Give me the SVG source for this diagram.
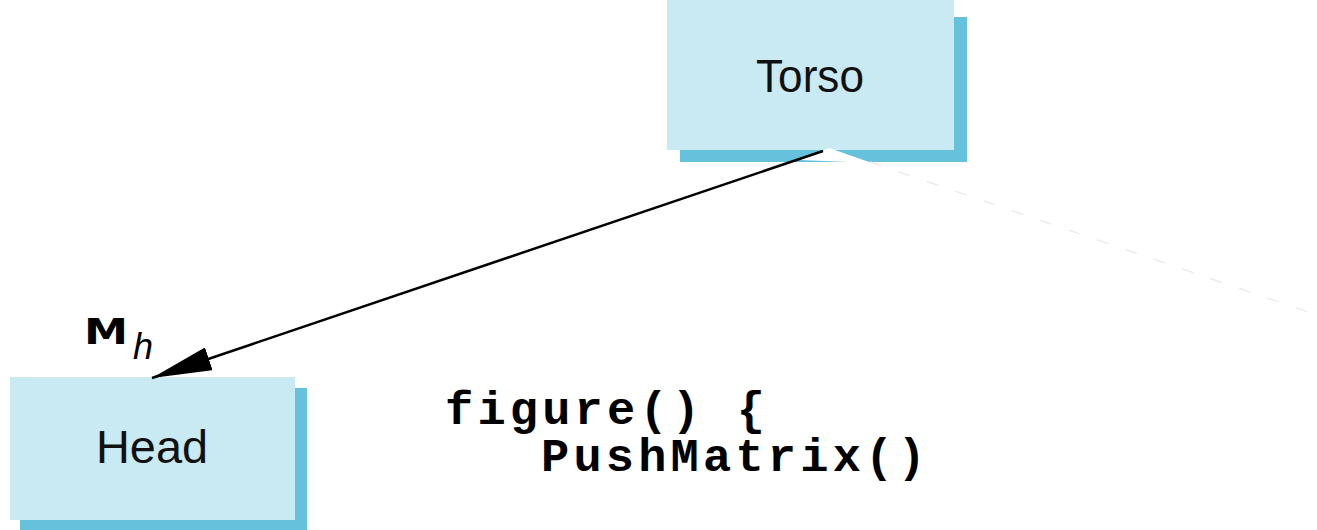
<svg xmlns="http://www.w3.org/2000/svg" width="1317" height="530" viewBox="0 0 1317 530">
<defs>
<style>
.front{fill:#c9e9f3}
.shadow{fill:#66c2dc}
.lbl{font-family:"Liberation Sans",Arial,sans-serif;font-size:47px;fill:#111}
.code{font-family:"Liberation Mono","Courier New",monospace;font-weight:bold;font-size:47px;letter-spacing:4.2px;fill:#000}
</style>
<marker id="ah" markerWidth="60" markerHeight="24" refX="60" refY="12" orient="auto" markerUnits="userSpaceOnUse">
<path d="M0,0 L60,12 L0,24 Z" fill="#000"/>
</marker>
</defs>
<rect width="1317" height="530" fill="#fff"/>
<g id="torso">
<rect class="shadow" x="680" y="17" width="287" height="145"/>
<rect class="front" x="667" y="0" width="287" height="150"/>
<text class="lbl" x="810" y="92" text-anchor="middle" textLength="108" lengthAdjust="spacingAndGlyphs">Torso</text>
</g>
<g id="head">
<rect class="shadow" x="20" y="388" width="287" height="142"/>
<rect class="front" x="10" y="377" width="285" height="143"/>
<text class="lbl" x="96" y="463" textLength="112" lengthAdjust="spacingAndGlyphs">Head</text>
</g>
<g id="connectors">
<polygon points="800,160 829,148 872,163" fill="#fff"/>
<line x1="870" y1="162" x2="1317" y2="315" stroke="#ececec" stroke-width="1.5" stroke-dasharray="12,18"/>
<line x1="823" y1="151" x2="152" y2="378" stroke="#000" stroke-width="2.5" marker-end="url(#ah)"/>
<text x="84" y="344" font-family="DejaVu Sans,sans-serif" font-weight="bold" font-size="36" textLength="44" lengthAdjust="spacingAndGlyphs">M</text>
<text x="133" y="359" font-family="Liberation Sans,Arial,sans-serif" font-style="italic" font-size="36">h</text>
</g>
<g id="code">
<text class="code" x="445" y="424">figure() {</text>
<text class="code" x="541" y="471">PushMatrix()</text>
</g>
</svg>
